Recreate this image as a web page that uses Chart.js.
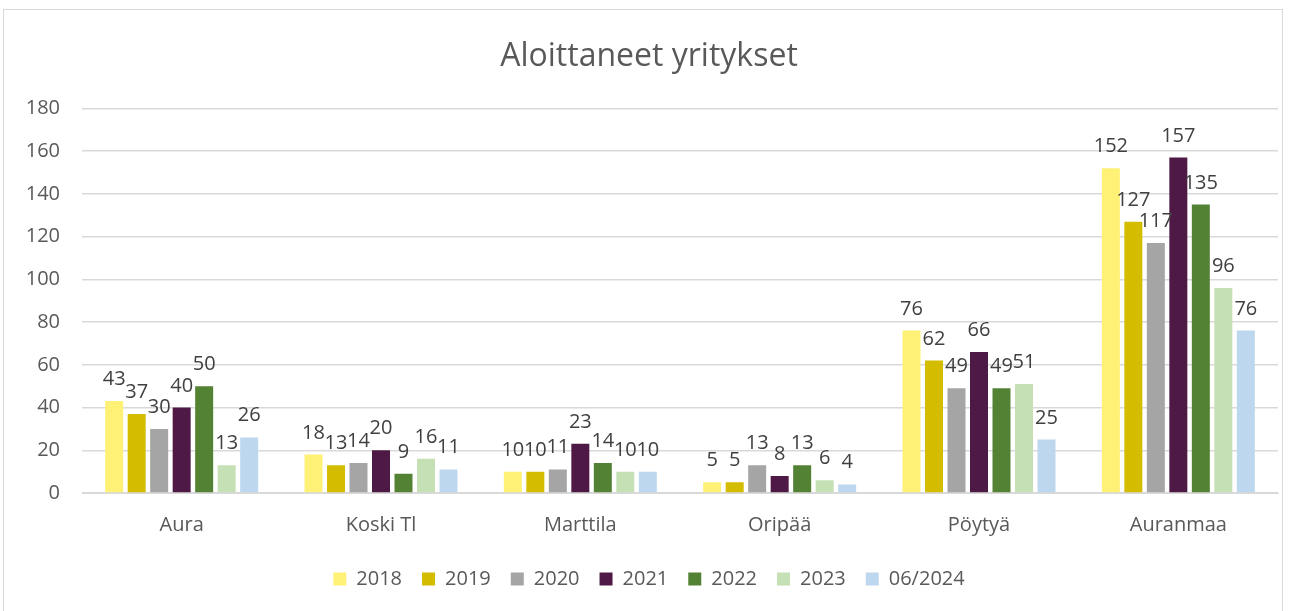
<!DOCTYPE html>
<html>
<head>
<meta charset="utf-8">
<script src="https://cdn.jsdelivr.net/npm/chart.js@4"></script>
<style>
  body { margin: 0; background: #fff; }
  #wrap { position: relative; width: 1290px; height: 611px; }
  #frame { position: absolute; left: 3px; top: 9px; width: 1280px; height: 610px; border: 1px solid #d9d9d9; box-sizing: border-box; }
  canvas { position: absolute; left: 0; top: 0; }
</style>
</head>
<body>
<div id="wrap">
  <div id="frame"></div>
  <canvas id="barDiagram" width="1290" height="611"></canvas>
</div>
<script>
const labelsKunnat = ['Aura', 'Koski Tl', 'Marttila', 'Oripää', 'Pöytyä', 'Auranmaa'];
const vuodet = ['2018', '2019', '2020', '2021', '2022', '2023', '06/2024'];

const data2018 = [43, 18, 10, 5, 76, 152];
const data2019 = [37, 13, 10, 5, 62, 127];
const data2020 = [30, 14, 11, 13, 49, 117];
const data2021 = [40, 20, 23, 8, 66, 157];
const data2022 = [50, 9, 14, 13, 49, 135];
const data2023 = [13, 16, 10, 6, 51, 96];
const data2024 = [26, 11, 10, 4, 25, 76];

const yTicks = [0, 20, 40, 60, 80, 100, 120, 140, 160, 180];

const barColors = ['#FFF176', '#D4BD00', '#A5A5A5', '#4E1A45', '#548235', '#C5E0B4', '#BDD7EE'];
const allData = [data2018, data2019, data2020, data2021, data2022, data2023, data2024];

const FONT = '"Open Sans", "Liberation Sans", sans-serif';

// value labels on top of bars
const valueLabels = {
  id: 'valueLabels',
  afterDatasetsDraw(chart) {
    const ctx = chart.ctx;
    ctx.save();
    ctx.font = '20px ' + FONT;
    ctx.fillStyle = '#404040';
    ctx.textAlign = 'center';
    ctx.textBaseline = 'alphabetic';
    chart.data.datasets.forEach((ds, i) => {
      chart.getDatasetMeta(i).data.forEach((bar, j) => {
        ctx.fillText(ds.data[j], bar.x, bar.y - 16);
      });
    });
    ctx.restore();
  }
};

const barDatasets = vuodet.map((v, i) => ({
  label: v,
  data: allData[i],
  backgroundColor: barColors[i],
  borderWidth: 0,
  barPercentage: 0.8,
  categoryPercentage: 0.79
}));

const configBar = {
  type: 'bar',
  data: { labels: labelsKunnat, datasets: barDatasets },
  options: {
    responsive: false,
    animation: false,
    layout: { padding: { left: 20, right: 12, top: 28, bottom: 12 } },
    plugins: {
      legend: {
        position: 'bottom',
        labels: {
          boxWidth: 13,
          boxHeight: 13,
          padding: 20,
          color: '#595959',
          font: { size: 20, family: FONT }
        }
      },
      title: {
        display: true,
        text: 'Aloittaneet yritykset',
        color: '#595959',
        font: { size: 32, weight: 'normal', family: FONT },
        padding: { top: 10, bottom: 32 }
      },
      tooltip: { enabled: false }
    },
    scales: {
      x: {
        grid: { display: false },
        border: { display: true, color: '#d9d9d9' },
        ticks: { color: '#595959', font: { size: 20, family: FONT }, padding: 12 }
      },
      y: {
        min: 0,
        max: 180,
        afterFit(scale) { scale.width = 62; },
        afterBuildTicks(scale) { scale.ticks = yTicks.map(v => ({ value: v })); },
        grid: { color: '#d9d9d9', lineWidth: 1.5, drawTicks: false },
        border: { display: false },
        ticks: { color: '#595959', font: { size: 20, family: FONT }, padding: 22 }
      }
    }
  },
  plugins: [valueLabels]
};

const barDiagram = new Chart(document.getElementById('barDiagram'), configBar);
</script>
</body>
</html>
